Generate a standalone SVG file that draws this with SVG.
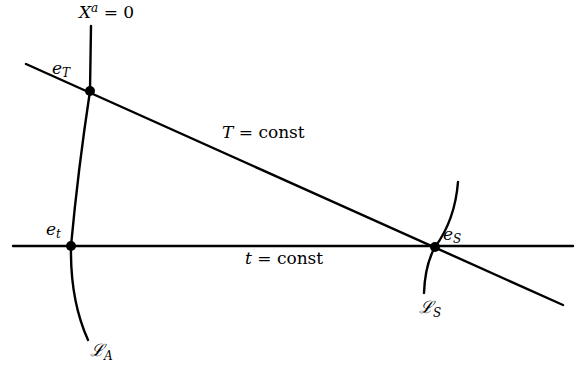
<svg xmlns="http://www.w3.org/2000/svg" width="579" height="366" viewBox="0 0 579 366">
<style>
.ln{fill:none;stroke:#000;stroke-width:2.4;stroke-linecap:round}
.dot{fill:#000}
text{font-family:"DejaVu Serif","Liberation Serif",serif;font-size:17px;fill:#000}
.it{font-style:italic}
</style>
<rect width="579" height="366" fill="#fff"/>
<g id="connectors">
<line class="ln" x1="26" y1="64" x2="563" y2="305"/>
<line class="ln" x1="13" y1="246" x2="573" y2="246"/>
</g>
<g id="curve-LA">
<path class="ln" d="M91,26 L90,91 Q78,170 71,246 Q70,300 88,340"/>
<text x="90" y="356" class="it">ℒ<tspan font-size="12" dy="4">A</tspan></text>
</g>
<g id="curve-LS">
<path class="ln" d="M458,182 Q455,220 435,247 Q425,265 424,293"/>
<text x="419" y="313" class="it">ℒ<tspan font-size="12" dy="4">S</tspan></text>
</g>
<g id="label-Xa">
<text x="79" y="18"><tspan class="it">X</tspan><tspan font-size="12" dy="-6" class="it">a</tspan><tspan dy="6"> = 0</tspan></text>
</g>
<g id="node-eT">
<circle class="dot" cx="90" cy="91" r="5"/>
<text x="52" y="74" class="it">e<tspan font-size="12" dy="3">T</tspan></text>
</g>
<g id="node-et">
<circle class="dot" cx="71" cy="246" r="5"/>
<text x="46" y="235" class="it">e<tspan font-size="12" dy="3">t</tspan></text>
</g>
<g id="node-eS">
<circle class="dot" cx="435" cy="247" r="5"/>
<text x="443" y="240" class="it">e<tspan font-size="12" dy="3">S</tspan></text>
</g>
<g id="label-Tconst">
<text x="222" y="138"><tspan class="it">T</tspan> = const</text>
</g>
<g id="label-tconst">
<text x="245" y="264"><tspan class="it">t</tspan> = const</text>
</g>
</svg>
